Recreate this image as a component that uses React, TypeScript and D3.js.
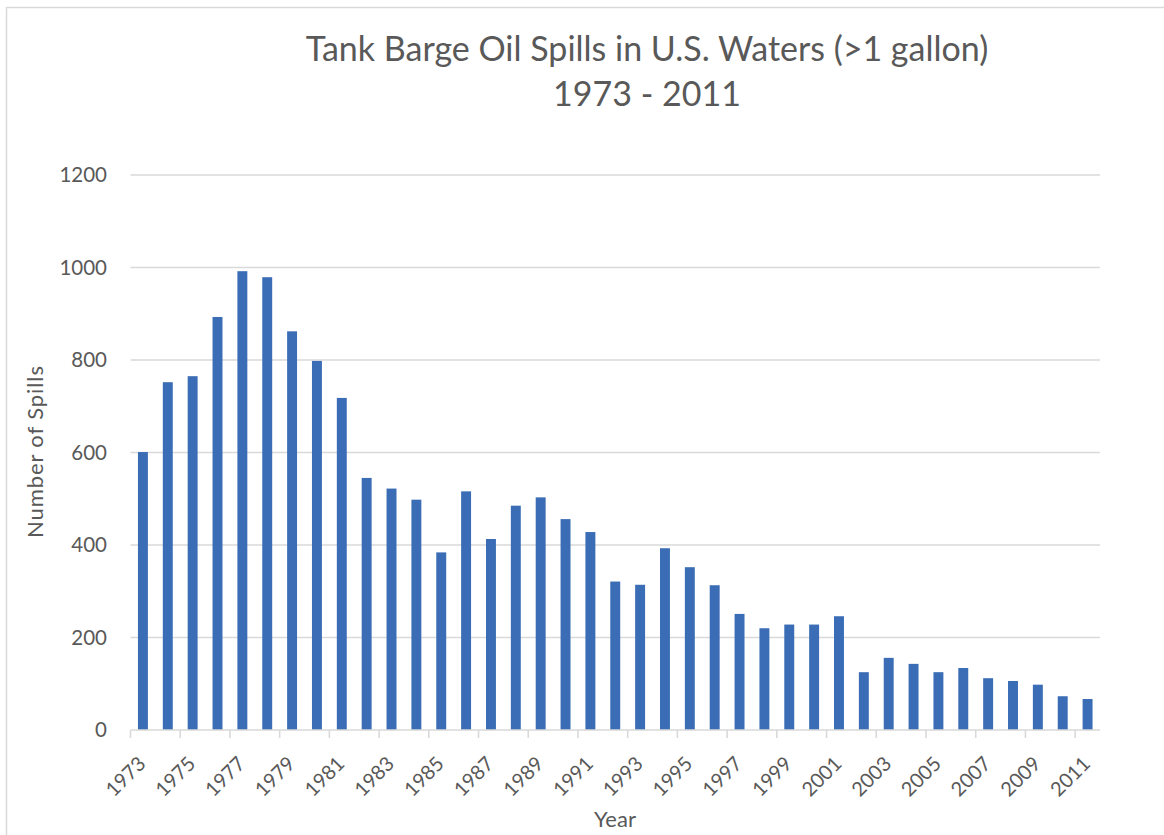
import React from "react";
import * as d3 from "d3";

const years: string[] = [
  "1973","1974","1975","1976","1977","1978","1979","1980","1981","1982",
  "1983","1984","1985","1986","1987","1988","1989","1990","1991","1992",
  "1993","1994","1995","1996","1997","1998","1999","2000","2001","2002",
  "2003","2004","2005","2006","2007","2008","2009","2010","2011",
];
const spills: number[] = [
  601, 752, 765, 893, 992, 979, 862, 798, 718, 545,
  522, 498, 384, 516, 413, 485, 503, 456, 428, 321,
  314, 393, 352, 313, 251, 220, 228, 228, 246, 125,
  156, 143, 125, 134, 112, 106, 98, 73, 67,
];
const yTicks: number[] = [0, 200, 400, 600, 800, 1000, 1200];
const titleLines: string[] = ["Tank Barge Oil Spills in U.S. Waters (>1 gallon)", "1973 - 2011"];

const W = 1164;
const H = 835;
const FONT = "Lato, 'Open Sans', sans-serif";
const TEXT = "#595959";
const GRID = "#d9d9d9";
const BAR = "#3a6db5";

export default function App() {
  const left = 130.5;
  const right = 1100;
  const top = 175;
  const bottom = 730;
  const x = d3.scaleBand<string>().domain(years).range([left, right]).paddingInner(0.6).paddingOuter(0.3);
  const xb = d3.scaleBand<string>().domain(years).range([left, right]);
  const y = d3.scaleLinear().domain([0, 1200]).range([bottom, top]);
  const step = xb.step();

  return (
    <svg width={W} height={H} style={{ position: "absolute", left: 0, top: 0, background: "#fff" }}>
      <rect x={6.5} y={7.5} width={W + 10} height={H + 10} fill="#fff" stroke={GRID} strokeWidth={1.5} />
      {titleLines.map((t, i) => (
        <text key={i} x={647} y={61 + i * 45} textAnchor="middle" fontFamily={FONT} fontSize={34} fill={TEXT}>
          {t}
        </text>
      ))}
      {yTicks.map((v) => (
        <g key={v}>
          {v > 0 && <line x1={left} x2={right} y1={y(v)} y2={y(v)} stroke={GRID} strokeWidth={1.3} />}
          <text x={107} y={y(v)} dy="0.36em" textAnchor="end" fontFamily={FONT} fontSize={20.5} fill={TEXT}>
            {v}
          </text>
        </g>
      ))}
      {years.map((yr, i) => (
        <rect key={yr} x={x(yr)} y={y(spills[i])} width={x.bandwidth()} height={y(0) - y(spills[i])} fill={BAR} />
      ))}
      <line x1={left} x2={right} y1={bottom} y2={bottom} stroke={GRID} strokeWidth={1.6} />
      {years.map((yr, i) =>
        i % 2 === 0 ? (
          <g key={"t" + yr}>
            <line x1={xb(yr)!} x2={xb(yr)!} y1={bottom} y2={bottom + 8} stroke={GRID} strokeWidth={1.6} />
            <text
              transform={`translate(${xb(yr)! + step / 2 + 4},${bottom + 35}) rotate(-45)`}
              textAnchor="end"
              fontFamily={FONT}
              fontSize={20}
              fill={TEXT}
            >
              {yr}
            </text>
          </g>
        ) : null
      )}
      <text x={615} y={827} textAnchor="middle" fontFamily={FONT} fontSize={22} fill={TEXT}>
        Year
      </text>
      <text
        transform={`translate(43,${452}) rotate(-90)`}
        textAnchor="middle"
        fontFamily={FONT}
        fontSize={22}
        textLength={172}
        lengthAdjust="spacing"
        fill={TEXT}
      >
        Number of Spills
      </text>
    </svg>
  );
}
